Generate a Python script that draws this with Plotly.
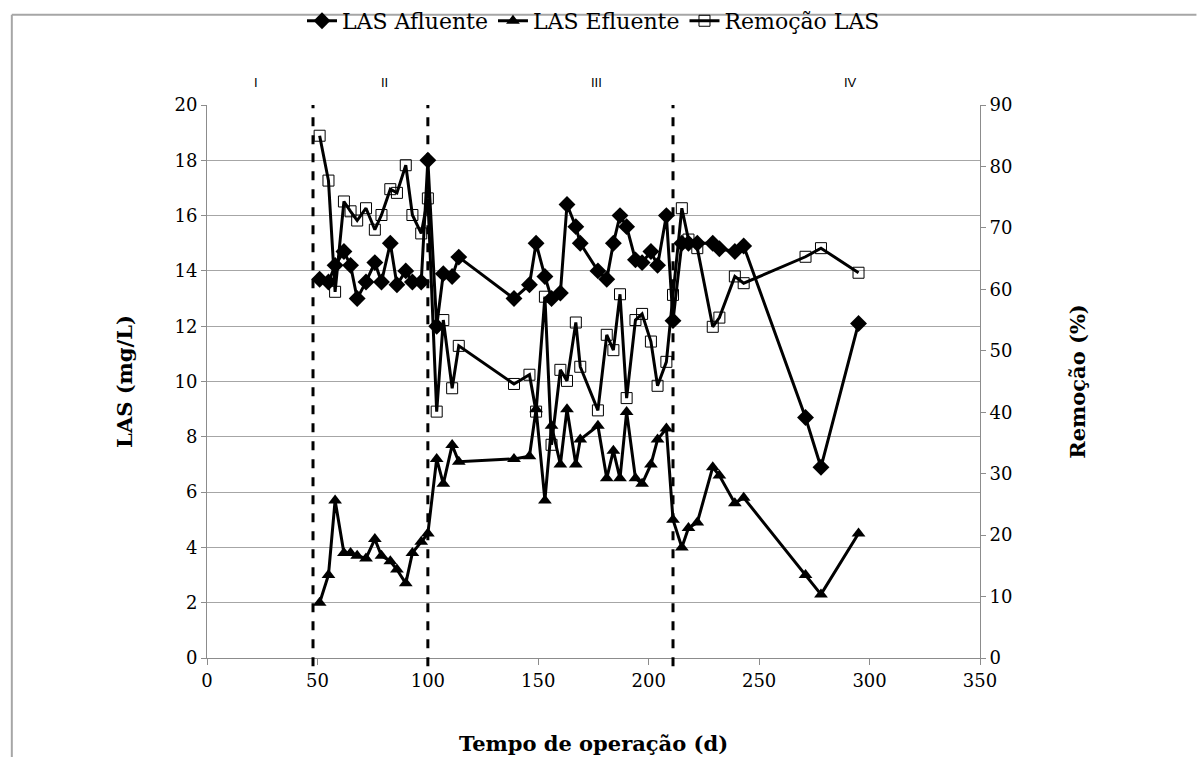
import plotly.graph_objects as go

days = [51, 55, 58, 62, 65, 68, 72, 76, 79, 83, 86, 90, 93, 97, 100,
        104, 107, 111, 114,
        139, 146, 149, 153, 156, 160, 163, 167, 169, 177, 181, 184, 187, 190, 194, 197, 201, 204, 208, 211,
        215, 218, 222, 229, 232, 239, 243,
        271, 278, 295]

las_afluente = [13.7, 13.6, 14.2, 14.7, 14.2, 13.0, 13.6, 14.3, 13.6, 15.0, 13.5, 14.0, 13.6, 13.6, 18.0,
                12.0, 13.9, 13.8, 14.5,
                13.0, 13.5, 15.0, 13.8, 13.0, 13.2, 16.4, 15.6, 15.0, 14.0, 13.7, 15.0, 16.0, 15.6, 14.4, 14.3, 14.7, 14.2, 16.0, 12.2,
                15.0, 15.0, 15.0, 15.0, 14.8, 14.7, 14.9,
                8.7, 6.9, 12.1]

las_efluente = [2.0, 3.0, 5.7, 3.8, 3.8, 3.7, 3.6, 4.3, 3.7, 3.5, 3.2, 2.7, 3.8, 4.2, 4.5,
                7.2, 6.3, 7.7, 7.1,
                7.2, 7.3, 9.0, 5.7, 8.4, 7.0, 9.0, 7.0, 7.9, 8.4, 6.5, 7.5, 6.5, 8.9, 6.5, 6.3, 7.0, 7.9, 8.3, 5.0,
                4.0, 4.7, 4.9, 6.9, 6.6, 5.6, 5.8,
                3.0, 2.3, 4.5]

remocao = [85.0, 77.7, 59.6, 74.3, 72.7, 71.2, 73.2, 69.7, 72.1, 76.3, 75.7, 80.2, 72.1, 69.1, 74.8,
           40.1, 55.0, 43.9, 50.8,
           44.6, 46.1, 40.1, 58.8, 34.7, 46.9, 45.1, 54.6, 47.4, 40.3, 52.6, 50.1, 59.2, 42.3, 55.0, 56.0, 51.5, 44.3, 48.2, 59.1,
           73.2, 68.1, 66.7, 53.9, 55.4, 62.1, 61.0,
           65.3, 66.7, 62.7]

phase_limits = [48, 100, 211]
phase_labels = ["I", "II", "III", "IV"]
phase_label_x = [22, 80.5, 176.5, 291.5]

x_ticks = [0, 50, 100, 150, 200, 250, 300, 350]

FONT = "DejaVu Serif"

fig = go.Figure()
fig.add_trace(go.Scatter(
    x=days, y=las_afluente, name="LAS Afluente", mode="lines+markers",
    line=dict(color="black", width=3),
    marker=dict(symbol="diamond", size=13, color="black"),
))
fig.add_trace(go.Scatter(
    x=days, y=las_efluente, name="LAS Efluente", mode="lines+markers",
    line=dict(color="black", width=3),
    marker=dict(symbol="triangle-up", size=12, color="black"),
))
fig.add_trace(go.Scatter(
    x=days, y=remocao, name="Remoção LAS", mode="lines+markers", yaxis="y2",
    line=dict(color="black", width=3),
    marker=dict(symbol="square-open", size=11, color="black", line=dict(width=1)),
))

shapes = []
for xv in phase_limits:
    shapes.append(dict(type="line", xref="x", yref="paper", x0=xv, x1=xv, y0=-0.015, y1=1,
                       line=dict(color="black", width=3, dash="dash")))
# outer chart border (top and left edges)
shapes.append(dict(type="line", xref="paper", yref="paper", x0=-0.2525, x1=1.28, y0=1.163, y1=1.163,
                   line=dict(color="#a6a6a6", width=2), layer="above"))
shapes.append(dict(type="line", xref="paper", yref="paper", x0=-0.2525, x1=-0.2525, y0=1.163, y1=-0.2,
                   line=dict(color="#a6a6a6", width=2), layer="above"))

annotations = []
for lab, xv in zip(phase_labels, phase_label_x):
    annotations.append(dict(x=xv, y=1.04, xref="x", yref="paper", yanchor="middle", text=lab,
                            showarrow=False,
                            font=dict(family="Liberation Sans", size=13, color="black")))

fig.update_layout(
    width=1204, height=757,
    margin=dict(l=207, r=224, t=105, b=99, autoexpand=False),
    paper_bgcolor="white", plot_bgcolor="white",
    font=dict(family=FONT, size=18, color="black"),
    showlegend=True,
    legend=dict(orientation="h", x=0.5, xanchor="center", y=1.114, yanchor="bottom",
                font=dict(family=FONT, size=22), itemwidth=30, tracegroupgap=0,
                bgcolor="rgba(0,0,0,0)"),
    xaxis=dict(range=[0, 350], tickvals=x_ticks, showgrid=False, zeroline=False,
               showline=True, linecolor="#8c8c8c", linewidth=1,
               ticks="outside", ticklen=6, tickcolor="#8c8c8c",
               tickfont=dict(family=FONT, size=18),
               title=dict(text="<b>Tempo de operação (d)</b>", font=dict(family=FONT, size=21), standoff=46)),
    yaxis=dict(range=[0, 20], dtick=2, showgrid=True, gridcolor="#a6a6a6", gridwidth=1,
               zeroline=False, showline=True, linecolor="#8c8c8c",
               ticks="outside", ticklen=5, tickcolor="#8c8c8c",
               tickfont=dict(family=FONT, size=18),
               title=dict(text="<b>LAS (mg/L)</b>", font=dict(family=FONT, size=21), standoff=36)),
    yaxis2=dict(range=[0, 90], dtick=10, overlaying="y", side="right", showgrid=False,
                zeroline=False, showline=True, linecolor="#8c8c8c",
                ticks="outside", ticklen=5, tickcolor="#8c8c8c",
                tickfont=dict(family=FONT, size=18),
                title=dict(text="<b>Remoção (%)</b>", font=dict(family=FONT, size=21), standoff=58)),
    shapes=shapes,
    annotations=annotations,
)

fig.write_html("out.html")
